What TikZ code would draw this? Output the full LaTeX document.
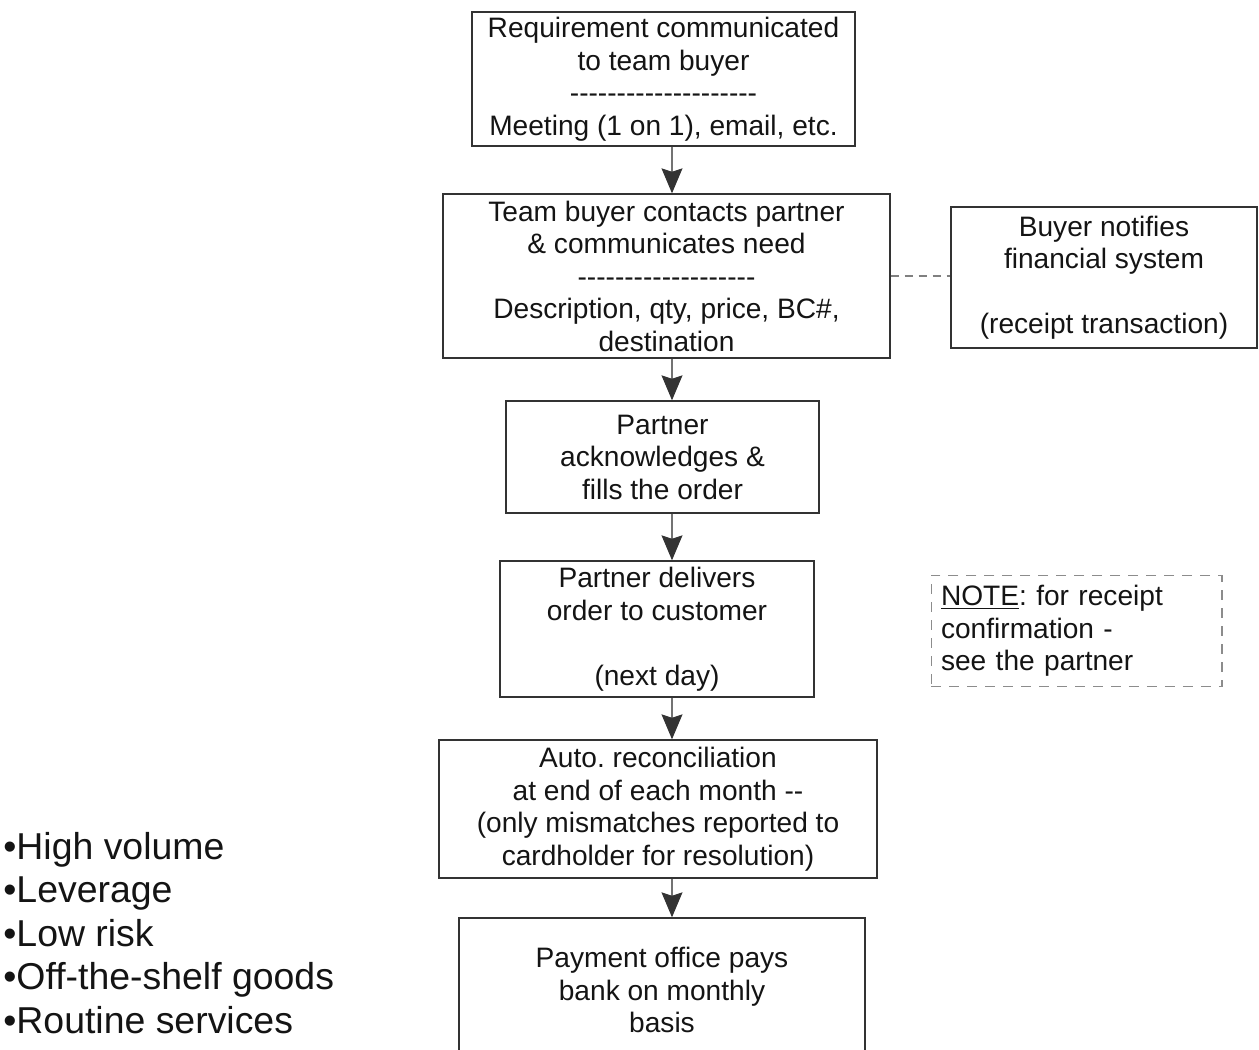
\documentclass[tikz,border=0pt]{standalone}
\usepackage{fontspec}
\setmainfont{Liberation Sans}[Ligatures=TeXOff]
\usetikzlibrary{arrows.meta}
\frenchspacing

\newcommand{\boxfont}{\fontsize{16}{18.5}\selectfont}
\newcommand{\listfont}{\fontsize{21.3}{24.7}\selectfont}
\newcommand{\seprow}{--------------------}

\tikzset{
  stepbox/.style={draw=black!80, line width=0.8pt, align=center, inner sep=0pt,
    text=black!92, font=\boxfont},
  notebox/.style={draw=black!45, line width=0.6pt, dash pattern=on 0.2cm off 0.16cm,
    align=left, inner sep=0.2cm, text=black!92, font=\boxfont},
  flow/.style={draw=black!55, line width=0.6pt,
    -{Stealth[length=0.5cm, width=0.42cm, inset=0.07cm, color=black!80]}},
  link/.style={draw=black!50, line width=0.6pt, dash pattern=on 0.16cm off 0.12cm}
}

\begin{document}
\begin{tikzpicture}[x=0.02cm, y=-0.02cm]
    % 1. Khung hinh
    \useasboundingbox (0,0) rectangle (1259,1050);
    \clip (0,0) rectangle (1259,1050);

    % 2. Cac buoc chinh
    \node[stepbox, minimum width=7.66cm, minimum height=2.68cm] (req) at (663.5,79)
        {Requirement communicated\\to team buyer\\\seprow\\Meeting (1 on 1), email, etc.};
    \node[stepbox, minimum width=8.94cm, minimum height=3.28cm] (contact) at (666.5,276)
        {Team buyer contacts partner\\\& communicates need\\-------------------\\Description, qty, price, BC\#,\\destination};
    \node[stepbox, minimum width=6.26cm, minimum height=2.24cm] (fill) at (662.5,457)
        {Partner\\acknowledges \&\\fills the order};
    \node[stepbox, minimum width=6.28cm, minimum height=2.72cm] (deliver) at (657,629)
        {Partner delivers\\order to customer\\\mbox{}\\(next day)};
    \node[stepbox, minimum width=8.76cm, minimum height=2.76cm] (recon) at (658,809)
        {Auto. reconciliation\\at end of each month --\\(only mismatches reported to\\cardholder for resolution)};
    \node[stepbox, minimum width=8.12cm, minimum height=2.88cm] (pay) at (662,990)
        {Payment office pays\\bank on monthly\\basis};

    % 3. Khung ben phai
    \node[stepbox, minimum width=6.12cm, minimum height=2.82cm] (notify) at (1104,277.5)
        {Buyer notifies\\financial system\\\mbox{}\\(receipt transaction)};
    \node[notebox, text width=5.42cm, minimum height=2.2cm] (note) at (1076.5,631)
        {\underline{NOTE}: for receipt\\confirmation -\\see the partner};

    % 4. Mui ten noi cac buoc
    \coordinate (spine) at (672,0);
    \draw[flow] (req.south -| spine) -- (contact.north -| spine);
    \draw[flow] (contact.south -| spine) -- (fill.north -| spine);
    \draw[flow] (fill.south -| spine) -- (deliver.north -| spine);
    \draw[flow] (deliver.south -| spine) -- (recon.north -| spine);
    \draw[flow] (recon.south -| spine) -- (pay.north -| spine);
    \draw[link] (contact.east) -- (contact.east -| notify.west);

    % 5. Danh sach dac diem
    \node[anchor=west, align=left, inner sep=0pt, text=black!92, font=\listfont] (traits) at (3,933)
        {•High volume\\•Leverage\\•Low risk\\•Off-the-shelf goods\\•Routine services};

\end{tikzpicture}
\end{document}
